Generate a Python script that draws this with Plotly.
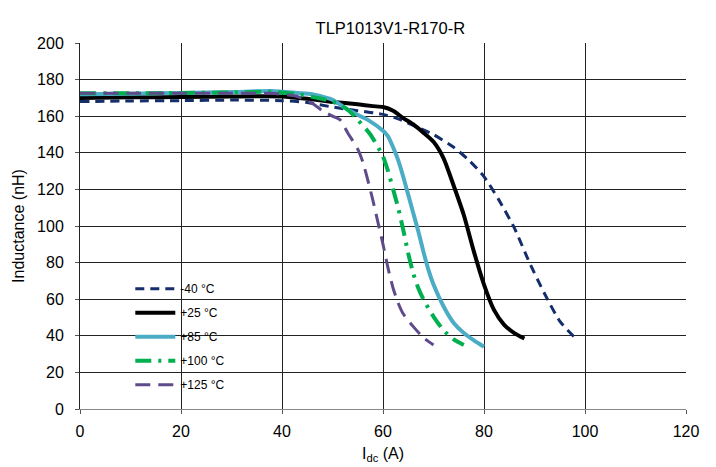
import plotly.graph_objects as go

# I_dc (A) vs inductance (nH)
x_m40 = [0, 10, 20, 30, 40, 45, 50, 55, 60, 63, 66, 70, 74, 77, 80, 83, 86, 89, 92, 95, 98]
y_m40 = [168, 168.3, 168.5, 168.8, 168.5, 167.5, 165, 163, 161, 158.5, 155, 150, 143, 136, 127, 114, 99, 80, 63, 48, 39]

x_25 = [0, 10, 20, 30, 40, 45, 50, 55, 58, 60, 62, 64, 66, 68, 70, 72, 74, 76, 78, 80, 82, 84, 86, 88]
y_25 = [170, 170.3, 170.5, 170.8, 170.8, 169.5, 167.8, 166.5, 165.5, 165, 163, 159, 155.5, 151, 146, 137, 122, 106, 86, 68, 54, 46, 41.5, 38.5]

x_85 = [0, 10, 20, 30, 38, 43, 46, 50, 53, 57, 60, 61, 62, 63, 64, 65, 66, 67, 68, 69, 70, 72, 74, 76, 78, 80]
y_85 = [172, 172.3, 172.7, 173.2, 173.8, 172.7, 172, 169, 163.5, 158, 152, 149, 143, 136, 127, 117, 107, 97, 86, 76, 68, 56, 47, 41.5, 37.5, 34]

x_100 = [0, 10, 20, 30, 38, 43, 47, 50, 53, 55, 57.5, 60, 61, 62, 63, 64, 65, 66, 67, 68, 70, 72, 74, 76]
y_100 = [172.5, 172.5, 172.7, 173, 173.3, 172, 170, 168, 163.6, 158, 150, 138, 130, 120, 110, 98, 85, 74, 66, 60, 50.5, 43, 38, 35]

x_125 = [0, 10, 20, 30, 38, 43, 46, 48, 50, 51.5, 53, 55, 56, 57, 58, 59, 60, 61, 62, 63, 64, 66, 68, 70]
y_125 = [172.5, 172.5, 172.5, 172.5, 172.5, 170.8, 167, 163, 160, 158, 151, 142, 135, 125, 114, 102, 90, 77, 66, 58, 52, 45, 39, 35]

series = [
    ("-40 °C", x_m40, y_m40, "#142d6b", 3, "9px,6px"),
    ("+25 °C", x_25, y_25, "#000000", 4, "solid"),
    ("+85 °C", x_85, y_85, "#4bacc6", 4, "solid"),
    ("+100 °C", x_100, y_100, "#00b050", 4, "16px,7px,3px,7px"),
    ("+125 °C", x_125, y_125, "#5f4b8b", 3, "15px,8px"),
]

fig = go.Figure()
for name, xs, ys, col, w, dash in series:
    fig.add_trace(go.Scatter(
        x=xs, y=ys, mode="lines", name=name, legendgroup=name,
        line=dict(color=col, width=w, dash=dash, shape="spline", smoothing=0.6),
    ))

# page body adds an 8px margin, so the figure is 8px smaller and shifted
fig.update_layout(
    width=708, height=459,
    margin=dict(l=72, r=30, t=35, b=58),
    paper_bgcolor="white", plot_bgcolor="white",
    font=dict(family="Liberation Sans, Arial", size=16, color="black"),
    title=dict(text="TLP1013V1-R170-R", x=0.54, xanchor="center", y=0.955, yanchor="middle",
               font=dict(size=16.5)),
    showlegend=True,
    legend=dict(x=0.083, y=0.368, xanchor="left", yanchor="top", bgcolor="rgba(0,0,0,0)",
                font=dict(size=12), tracegroupgap=5, traceorder="grouped", itemwidth=40),
)
fig.update_xaxes(range=[0, 120], dtick=20, showgrid=True, gridcolor="#222", gridwidth=1,
                 showline=True, linecolor="#888", ticks="outside", tickcolor="#555", ticklen=4,
                 zeroline=False, automargin=False, ticklabelstandoff=4,
                 title=dict(text="I<sub>dc</sub> (A)", standoff=8, font=dict(size=16)))
fig.update_yaxes(range=[0, 200], dtick=20, showgrid=True, gridcolor="#222", gridwidth=1,
                 showline=True, linecolor="#222", ticks="outside", tickcolor="#555", ticklen=4,
                 zeroline=False, automargin=False, ticklabelstandoff=8,
                 title=dict(text="Inductance (nH)", standoff=8, font=dict(size=16)))

fig.write_html("out.html")
